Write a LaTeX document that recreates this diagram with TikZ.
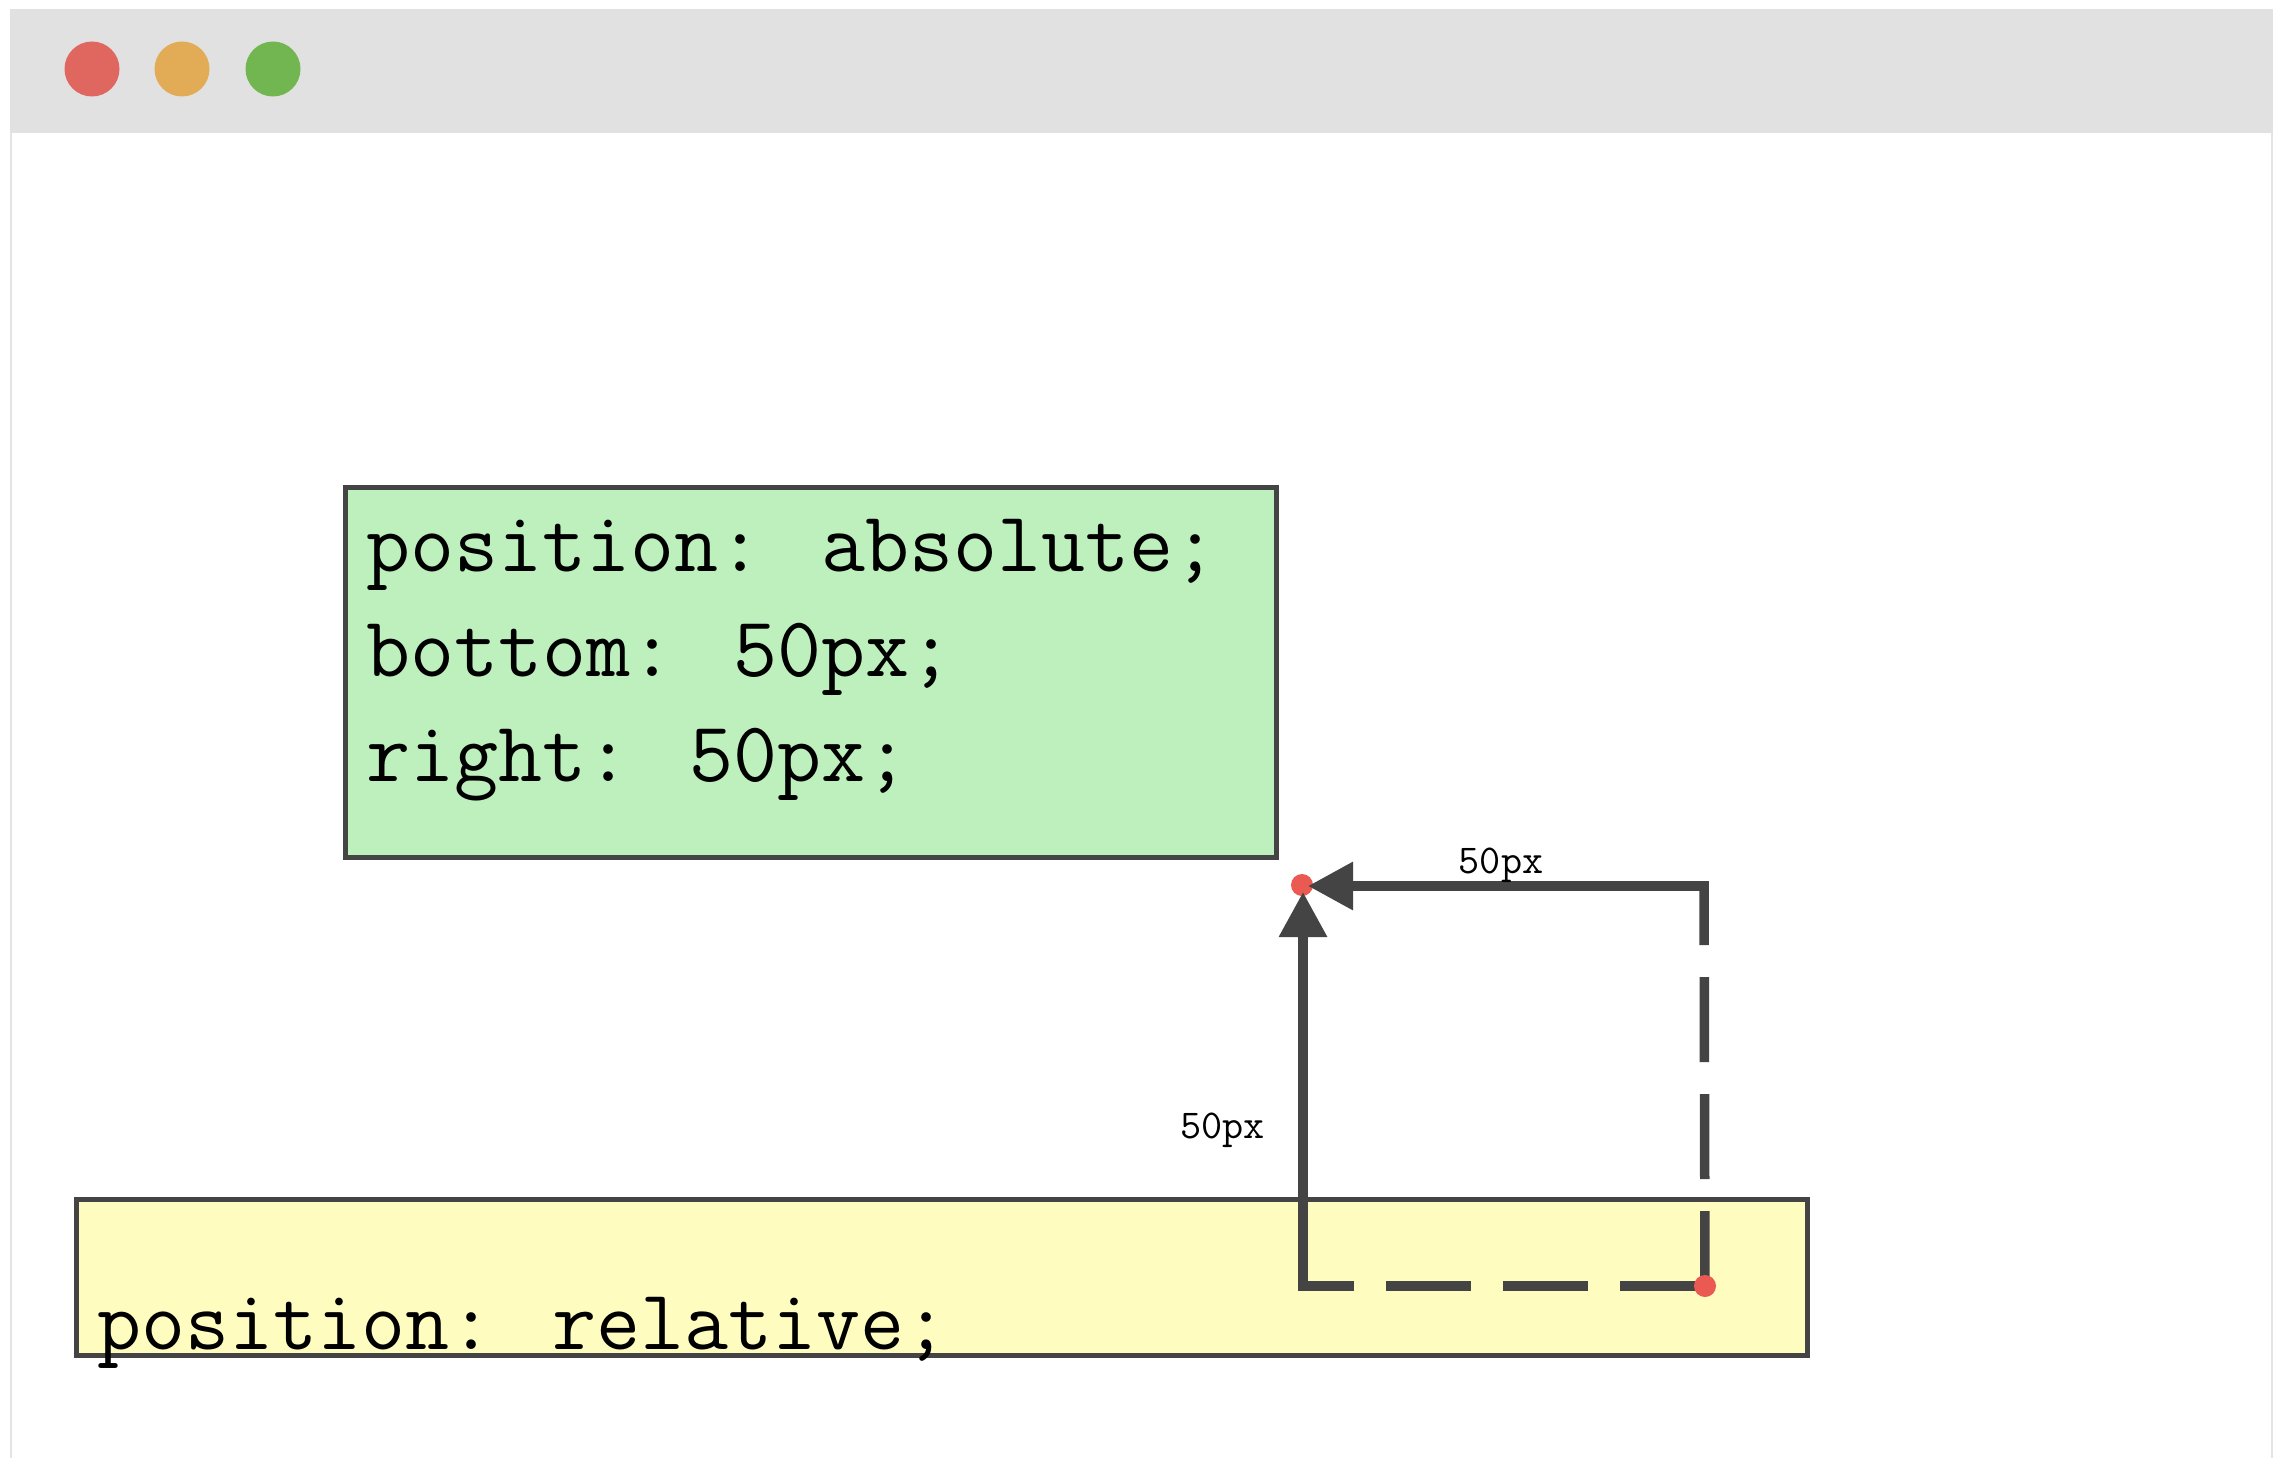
\documentclass[tikz,border=0pt]{standalone}
\usepackage{fontspec}
\usetikzlibrary{arrows.meta}
\definecolor{barcol}{HTML}{E1E1E1}
\definecolor{framecol}{HTML}{E4E4E4}
\definecolor{inkcol}{HTML}{444444}
\definecolor{dotcol}{HTML}{EA5A52}
\definecolor{btnred}{RGB}{223,103,96}
\definecolor{btnorange}{RGB}{226,171,85}
\definecolor{btngreen}{RGB}{113,182,80}
\definecolor{absfill}{HTML}{BDF0BD}
\definecolor{relfill}{HTML}{FFFCBF}
\tikzset{
  boxstyle/.style={draw=inkcol, line width=5pt, inner sep=0pt},
  codetext/.style={inner sep=0pt, anchor=base west, font=\ttfamily\fontsize{85.5}{105}\selectfont},
  dimtext/.style={inner sep=0pt, font=\ttfamily\fontsize{41}{45}\selectfont},
  solidarrow/.style={draw=inkcol, line width=9.5pt, -{Triangle[length=45pt,width=46pt]}},
  dashline/.style={draw=inkcol, line width=9.5pt, dash pattern=on 85pt off 32pt},
  reddot/.style={circle, fill=dotcol, inner sep=0pt, minimum size=22pt},
  button/.style={circle, inner sep=0pt, minimum size=55pt}
}
\begin{document}
\begin{tikzpicture}[x=1pt,y=-1pt]
\useasboundingbox (0,0) rectangle (2277,1458);
\fill[white] (0,0) rectangle (2277,1458);
% window
\draw[framecol, line width=2.5pt, fill=white] (11,10) rectangle (2272,1470);
\fill[barcol] (10,9) rectangle (2273,133);
\node[button, fill=btnred] (b1) at (92,69) {};
\node[button, fill=btnorange] (b2) at (182,69) {};
\node[button, fill=btngreen] (b3) at (273,69) {};
% boxes
\node[boxstyle, fill=absfill, minimum width=931pt, minimum height=370pt] (abs) at (810.5,672) {};
\node[boxstyle, fill=relfill, minimum width=1731pt, minimum height=156pt] (rel) at (941.5,1277) {};
\node[codetext] (t1) at (366,571) {position: absolute;};
\node[codetext] (t2) at (366,676) {bottom: 50px;};
\node[codetext] (t3) at (366,781) {right: 50px;};
\node[codetext] (t4) at (97,1349) {position: relative;};
% offset path
\coordinate (tl) at (1303,886);
\coordinate (tr) at (1704,886);
\coordinate (br) at (1705,1286);
\coordinate (bl) at (1303,1286);
\draw[dashline, dash phase=26pt] (tr) -- (br);
\draw[dashline] (br) -- (bl);
\node[reddot] (d1) at (1302,885) {};
\node[reddot] (d2) at (br) {};
\draw[solidarrow, shorten <=-5pt, shorten >=6pt] (bl) -- (tl);
\draw[solidarrow, shorten <=-5pt, shorten >=5pt] (tr) -- (tl);
\node[dimtext, anchor=base] (l1) at (1501,873) {50px};
\node[dimtext, anchor=base east] (l2) at (1265,1138) {50px};
\end{tikzpicture}
\end{document}
